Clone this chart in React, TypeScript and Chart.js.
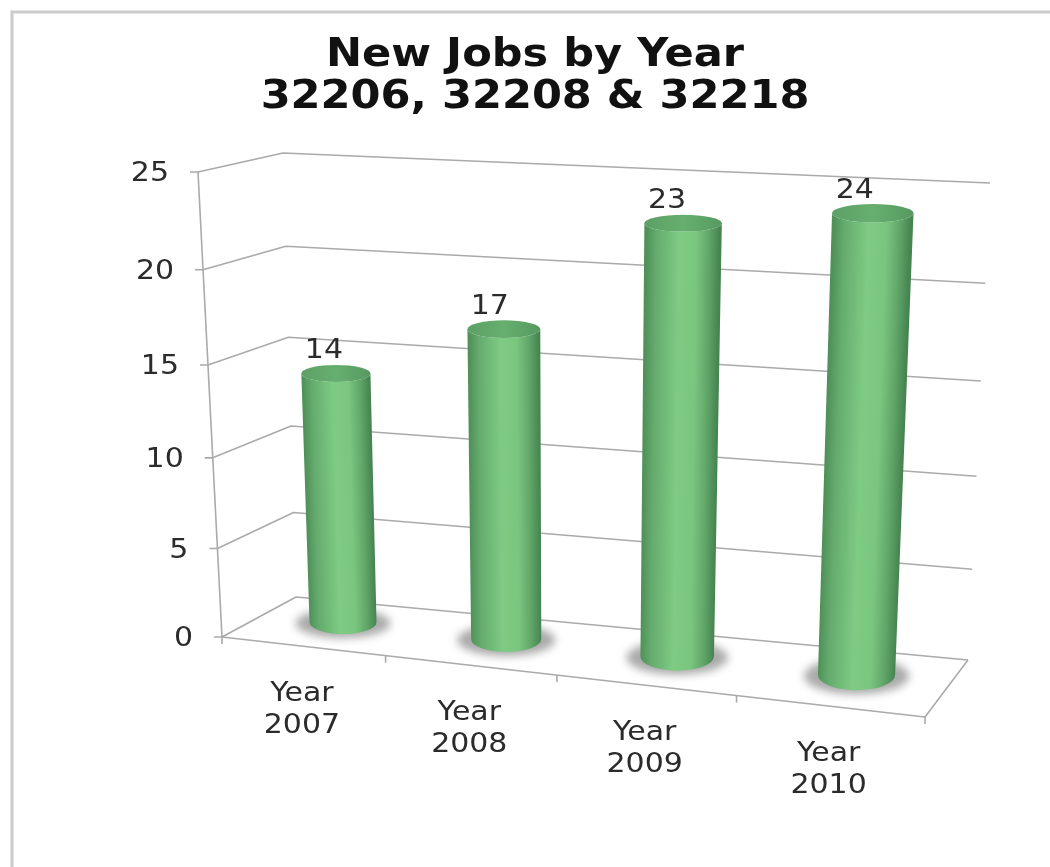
import React, { useEffect, useRef } from "react";
import { Chart, BarController, registerables } from "chart.js";

const titleLines = ["New Jobs by Year", "32206, 32208 & 32218"];
const categories = ["Year 2007", "Year 2008", "Year 2009", "Year 2010"];
const newJobs = [14, 17, 23, 24];
const axisMax = 25;
const axisStep = 5;

// Camera for the box the chart stands in: eight corners in canvas pixels,
// named by (across, up, depth), plus perspective foreshortening on two axes.
const corners = {
  c000: [222, 637], c010: [198, 172], c001: [296, 597], c011: [283, 153],
  c100: [925, 717], c110: [948, 217], c101: [968, 660], c111: [990, 183],
};
const acrossPerspective = 0.91;
const upPerspective = 0.94;
const barDepth = 0.57;
const barDepthRadius = 0.28;

const FONT = '"DejaVu Sans", Verdana, sans-serif';
const LABEL_FONT = `27px ${FONT}`;
const TITLE_FONT = `bold 39px ${FONT}`;
const LABEL_WIDEN = 1.11;
const TITLE_WIDEN = 1.105;
const TEXT = "#2b2b2b";
const GRID = "#aaaaaa";

const warp = (t: number, k: number) => (t * k) / (1 + t * (k - 1));
const mix = (a: number, b: number, t: number) => a + (b - a) * t;

function project(across: number, up: number, depth: number) {
  const u = warp(across, acrossPerspective);
  const v = warp(up, upPerspective);
  const axis = (i: number) => {
    const left = mix(mix(corners.c000[i], corners.c010[i], v), mix(corners.c001[i], corners.c011[i], v), depth);
    const right = mix(mix(corners.c100[i], corners.c110[i], v), mix(corners.c101[i], corners.c111[i], v), depth);
    return mix(left, right, u);
  };
  return { x: axis(0), y: axis(1) };
}

const acrossOf = (chart: any, px: number) => (px - chart.chartArea.left) / chart.chartArea.width;
const upOf = (chart: any, px: number) => (chart.chartArea.bottom - px) / chart.chartArea.height;

// Verdana-like wide lettering: the face is widened horizontally about its anchor.
function wideText(
  ctx: CanvasRenderingContext2D,
  text: string,
  x: number,
  y: number,
  font: string,
  widen: number,
  color: string,
  align: CanvasTextAlign = "center",
) {
  ctx.save();
  ctx.translate(x, y);
  ctx.scale(widen, 1);
  ctx.font = font;
  ctx.fillStyle = color;
  ctx.textAlign = align;
  ctx.textBaseline = "middle";
  ctx.fillText(text, 0, 0);
  ctx.restore();
}

function paintCylinder(ctx: CanvasRenderingContext2D, chart: any, el: any, value: number) {
  const across = acrossOf(chart, el.x);
  const radius = el.width / chart.chartArea.width / 2;
  const up = upOf(chart, el.y);
  const cb = project(across, 0, barDepth);
  const ct = project(across, up, barDepth);
  const rxB = (project(across + radius, 0, barDepth).x - project(across - radius, 0, barDepth).x) / 2;
  const rxT = (project(across + radius, up, barDepth).x - project(across - radius, up, barDepth).x) / 2;
  const ryB = Math.abs(project(across, 0, barDepth - barDepthRadius).y - project(across, 0, barDepth + barDepthRadius).y) / 2;
  const ryT = Math.abs(project(across, up, barDepth - barDepthRadius).y - project(across, up, barDepth + barDepthRadius).y) / 2;

  // soft contact shadow on the floor
  ctx.save();
  ctx.filter = "blur(4px)";
  ctx.fillStyle = "rgba(130,130,130,0.68)";
  ctx.beginPath();
  ctx.ellipse(cb.x, cb.y + 1, rxB + 14, ryB + 3, 0, 0, Math.PI * 2);
  ctx.fill();
  ctx.restore();

  // cylinder side, shaded across its width and sheared along the leaning axis
  ctx.save();
  ctx.beginPath();
  ctx.moveTo(ct.x - rxT, ct.y);
  ctx.lineTo(cb.x - rxB, cb.y);
  ctx.ellipse(cb.x, cb.y, rxB, ryB, 0, Math.PI, 0, true);
  ctx.lineTo(ct.x + rxT, ct.y);
  ctx.ellipse(ct.x, ct.y, rxT, ryT, 0, 0, Math.PI, false);
  ctx.closePath();
  ctx.clip();
  const shear = (ct.x - cb.x) / (ct.y - cb.y);
  ctx.transform(1, 0, shear, 1, -shear * cb.y, 0);
  const side = ctx.createLinearGradient(cb.x - rxB, 0, cb.x + rxB, 0);
  side.addColorStop(0, "#4f9159");
  side.addColorStop(0.14, "#64ab6d");
  side.addColorStop(0.45, "#7ecb84");
  side.addColorStop(0.68, "#7ac67f");
  side.addColorStop(0.86, "#60a568");
  side.addColorStop(1, "#468450");
  ctx.fillStyle = side;
  ctx.fillRect(cb.x - 200, ct.y - 40, 400, cb.y - ct.y + 120);
  ctx.restore();

  // flat top cap
  const cap = ctx.createLinearGradient(ct.x - rxT, 0, ct.x + rxT, 0);
  cap.addColorStop(0, "#5c9f65");
  cap.addColorStop(0.5, "#66af6f");
  cap.addColorStop(1, "#569960");
  ctx.fillStyle = cap;
  ctx.beginPath();
  ctx.ellipse(ct.x, ct.y, rxT, ryT, 0, 0, Math.PI * 2);
  ctx.fill();

  // value above the bar
  wideText(ctx, String(value), ct.x - 11 - across * 8, ct.y - 22, LABEL_FONT, LABEL_WIDEN, TEXT);
}

// Bar controller whose rectangles are painted as cylinders in the projected box.
class CylinderController extends BarController {
  static id = "cylinder";
  draw() {
    const self = this as any;
    const meta = self._cachedMeta;
    const values = self.getDataset().data;
    meta.data.forEach((el: any, i: number) => paintCylinder(self._ctx, self.chart, el, values[i]));
  }
}

function strokeLine(ctx: CanvasRenderingContext2D, pts: { x: number; y: number }[]) {
  ctx.beginPath();
  pts.forEach((p, i) => (i ? ctx.lineTo(p.x, p.y) : ctx.moveTo(p.x, p.y)));
  ctx.stroke();
}

const boxPlugin = {
  id: "box3d",
  beforeDatasetsDraw(chart: any) {
    const ctx: CanvasRenderingContext2D = chart.ctx;
    const { x: xScale, y: yScale } = chart.scales;
    ctx.save();

    // card edge along the top and left
    ctx.strokeStyle = "#cbcbcb";
    ctx.lineWidth = 3;
    strokeLine(ctx, [{ x: 12, y: 867 }, { x: 12, y: 12 }, { x: 1050, y: 12 }]);

    titleLines.forEach((line, i) => wideText(ctx, line, 535, 56 + i * 42, TITLE_FONT, TITLE_WIDEN, "#111111"));

    ctx.strokeStyle = GRID;
    ctx.lineWidth = 1.6;
    ctx.lineJoin = "round";

    // value gridlines across the side wall and back wall, with axis ticks
    yScale.ticks.forEach((tick: any) => {
      const up = upOf(chart, yScale.getPixelForValue(tick.value));
      const front = project(0, up, 0);
      strokeLine(ctx, [{ x: front.x - 8, y: front.y }, front, project(0, up, 1), project(1, up, 1)]);
      wideText(ctx, tick.label, front.x - 29, front.y + 2, LABEL_FONT, LABEL_WIDEN, TEXT, "right");
    });

    // vertical axis and floor outline
    strokeLine(ctx, [project(0, 1, 0), project(0, 0, 0)]);
    strokeLine(ctx, [project(0, 0, 0), project(1, 0, 0), project(1, 0, 1)]);

    // category ticks and two-line labels beneath the front edge
    const half = 0.5 / categories.length;
    categories.forEach((name, i) => {
      const across = acrossOf(chart, xScale.getPixelForValue(i));
      const edge = project(across + half, 0, 0);
      strokeLine(ctx, [edge, { x: edge.x, y: edge.y + 7 }]);
      if (i === 0) {
        const start = project(0, 0, 0);
        strokeLine(ctx, [start, { x: start.x, y: start.y + 7 }]);
      }
      const mid = project(across, 0, 0);
      name
        .split(" ")
        .forEach((line, j) => wideText(ctx, line, mid.x - 1, mid.y + 48 + j * 32, LABEL_FONT, LABEL_WIDEN, TEXT));
    });
    ctx.restore();
  },
};

Chart.register(...registerables, CylinderController);

export default function App() {
  const ref = useRef<HTMLCanvasElement>(null);
  useEffect(() => {
    const chart = new Chart(ref.current as HTMLCanvasElement, {
      type: "cylinder" as any,
      data: {
        labels: categories,
        datasets: [
          { label: "New Jobs", data: newJobs, barPercentage: 0.42, categoryPercentage: 1, clip: false } as any,
        ],
      },
      options: {
        animation: false,
        responsive: false,
        plugins: {
          legend: { display: false },
          tooltip: { enabled: false },
          title: { display: false },
        },
        scales: {
          x: { display: false },
          y: { display: false, min: 0, max: axisMax, ticks: { stepSize: axisStep } },
        },
      },
      plugins: [boxPlugin],
    } as any);
    return () => chart.destroy();
  }, []);
  return (
    <div style={{ position: "fixed", left: 0, top: 0, background: "#ffffff" }}>
      <canvas ref={ref} width={1050} height={867} style={{ display: "block" }} />
    </div>
  );
}
